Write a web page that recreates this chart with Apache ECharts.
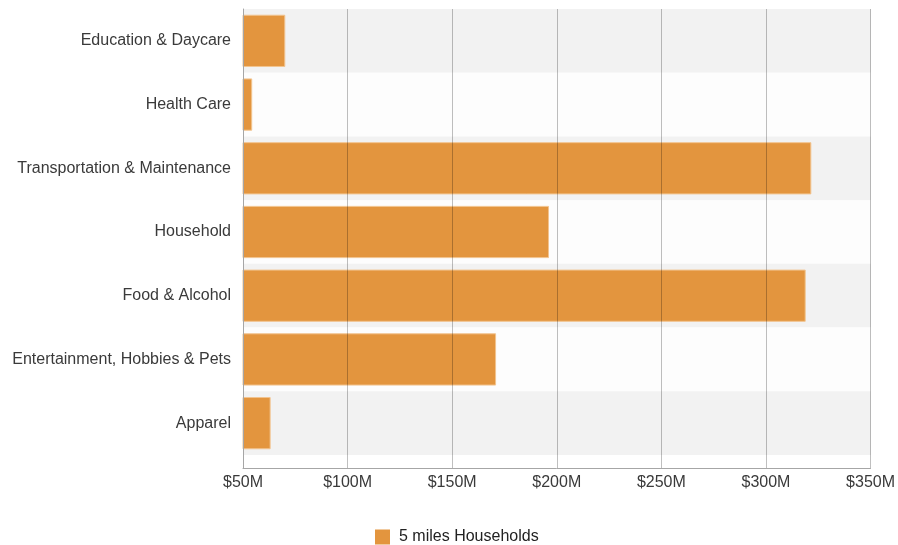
<!DOCTYPE html>
<html>
<head>
<meta charset="utf-8">
<script src="https://cdn.jsdelivr.net/npm/echarts@6/dist/echarts.min.js"></script>
<style>html,body{margin:0;padding:0;background:#fff}#c{width:898px;height:545px}</style>
</head>
<body>
<div id="c"></div>
<script>
var categories = ['Education & Daycare','Health Care','Transportation & Maintenance','Household','Food & Alcohol','Entertainment, Hobbies & Pets','Apparel'];
var values = [70.2, 54.4, 321.5, 196.2, 318.8, 170.9, 63.2];
var seriesName = '5 miles Households';
var xMin = 50, xMax = 350, xStep = 50;

var FONT = "'Liberation Sans', Arial, sans-serif";
var chart = echarts.init(document.getElementById('c'));
chart.setOption({
  animation: false,
  backgroundColor: '#ffffff',
  textStyle: { fontFamily: FONT },
  grid: [
    { left: 243, right: 27, top: 9, height: 446 },
    { left: 243, right: 27, top: 9, bottom: 77 }
  ],
  legend: {
    data: [seriesName],
    left: 370, top: 524,
    icon: 'rect', itemWidth: 15, itemHeight: 15, itemGap: 8,
    itemStyle: { borderWidth: 0 },
    textStyle: { fontSize: 16, color: '#222', fontFamily: FONT, padding: [0, 0, 0, 4] }
  },
  xAxis: [
    { gridIndex: 0, type: 'value', min: xMin, max: xMax, interval: xStep, show: false },
    { gridIndex: 1, type: 'value', min: xMin, max: xMax, interval: xStep, z: 5,
      axisLine: { show: true, lineStyle: { color: '#a6a6a6', width: 1 } },
      axisTick: { show: false },
      axisLabel: { color: '#3a3a3a', fontSize: 16, margin: 7, fontFamily: FONT,
        formatter: function (v) { return '$' + v + 'M'; } },
      splitLine: { show: true, lineStyle: { color: 'rgba(0,0,0,0.25)', width: 1 } }
    }
  ],
  yAxis: [
    { gridIndex: 0, type: 'category', data: categories, inverse: true,
      axisLine: { show: false }, axisTick: { show: false },
      axisLabel: { color: '#3a3a3a', fontSize: 16, margin: 12, fontFamily: FONT, padding: [4, 0, 0, 0] },
      splitArea: { show: true, areaStyle: { color: ['#f2f2f2', '#fdfdfd'] } },
      splitLine: { show: false }
    },
    { gridIndex: 1, type: 'value', min: 0, max: 1, z: 5,
      axisLine: { show: true, lineStyle: { color: '#a6a6a6', width: 1 } },
      axisTick: { show: false }, axisLabel: { show: false }, splitLine: { show: false }
    }
  ],
  series: [{
    name: seriesName,
    type: 'bar',
    xAxisIndex: 0, yAxisIndex: 0,
    data: values,
    barCategoryGap: '18%',
    itemStyle: { color: '#e3953e', borderColor: '#f2c48f', borderWidth: 1 }
  }]
});
</script>
</body>
</html>
